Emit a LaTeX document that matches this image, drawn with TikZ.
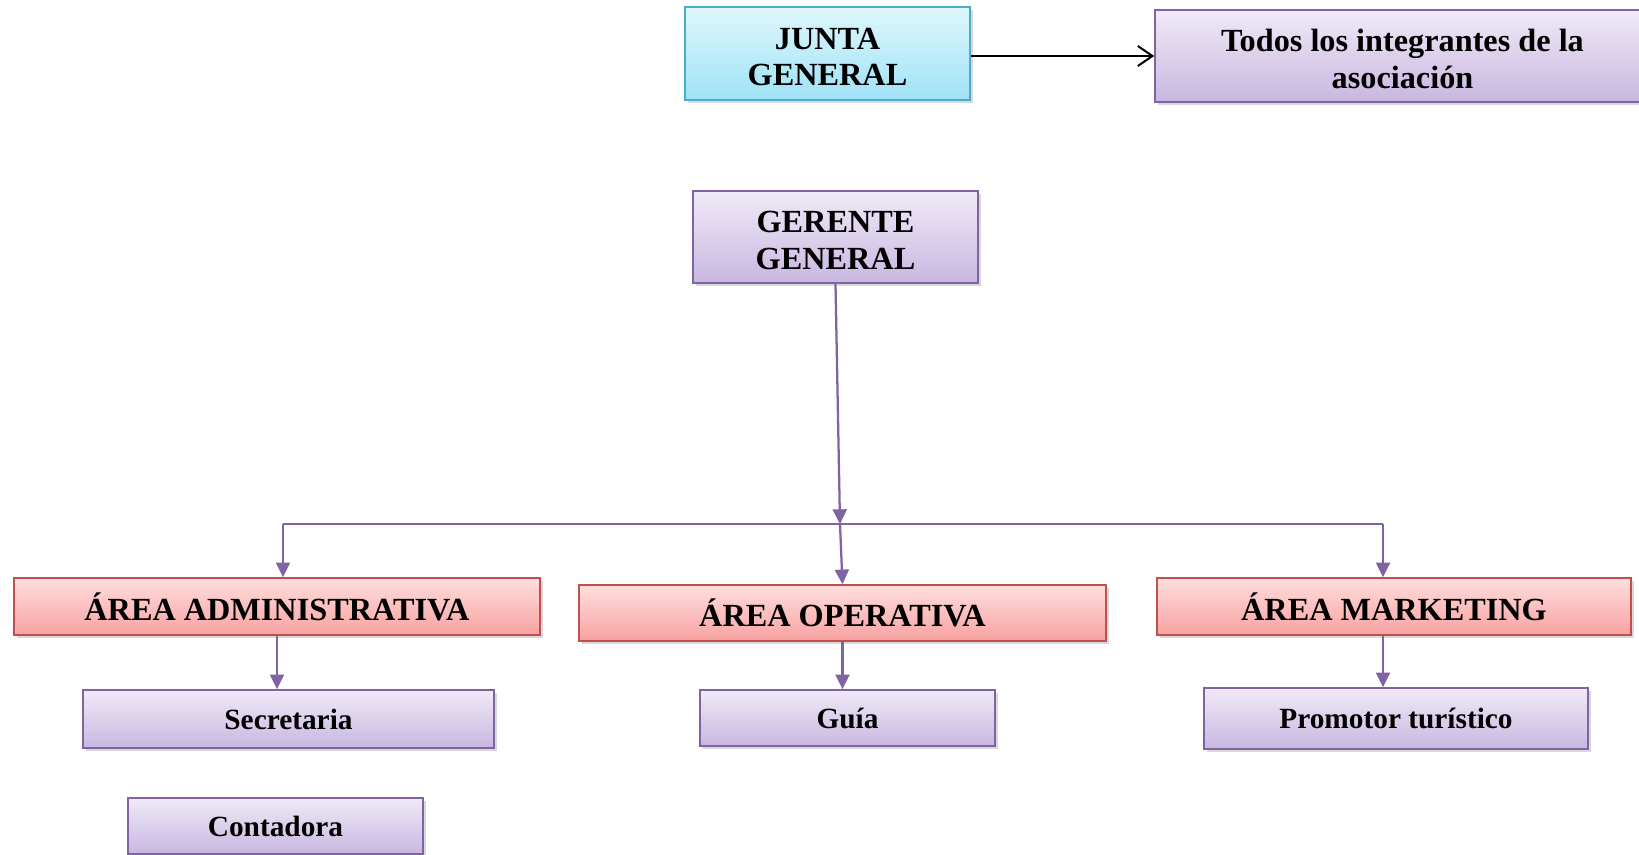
\documentclass[tikz,border=0pt]{standalone}
\usepackage{fontspec}
\setmainfont{Liberation Serif}
\usetikzlibrary{arrows.meta,shadows}

\definecolor{juntaTop}{HTML}{DFF7FD}
\definecolor{juntaBot}{HTML}{9FE2F6}
\definecolor{juntaLine}{HTML}{4BACC6}
\definecolor{moradoTop}{HTML}{F0EAF7}
\definecolor{moradoBot}{HTML}{C8B7E1}
\definecolor{moradoLine}{HTML}{8064A2}
\definecolor{rojoTop}{HTML}{FFDEDE}
\definecolor{rojoBot}{HTML}{F7A2A1}
\definecolor{rojoLine}{HTML}{C0504D}

\tikzset{
  caja/.style={draw, line width=1.1pt, align=center, inner sep=2pt,
    font=\bfseries\fontsize{24.2}{27.5}\selectfont,
    drop shadow={shadow xshift=2pt, shadow yshift=-2.5pt, opacity=0.3}},
  cajaJunta/.style={caja, draw=juntaLine, top color=juntaTop, bottom color=juntaBot},
  cajaMorada/.style={caja, draw=moradoLine, top color=moradoTop, bottom color=moradoBot},
  cajaArea/.style={caja, draw=rojoLine, top color=rojoTop, bottom color=rojoBot},
  cajaCargo/.style={cajaMorada, font=\bfseries\fontsize{22}{26}\selectfont},
  enlace/.style={draw=moradoLine, line width=1.7pt},
  flecha/.style={enlace, -{Triangle[length=11pt,width=10.5pt]}}
}

\begin{document}
\begin{tikzpicture}[x=0.75pt,y=0.75pt,yscale=-1,xscale=1]
\useasboundingbox (0,0) rectangle (1639,855);

%Shape: Rectangle [junta]
\node [cajaJunta, minimum width=213.75pt, minimum height=69.75pt] (junta) at (827.5,53.5) {\rule{0pt}{21pt}JUNTA\\GENERAL};
%Shape: Rectangle [todos]
\node [cajaMorada, minimum width=371.25pt, minimum height=69pt] (todos) at (1402.5,56) {\rule{0pt}{21pt}Todos los integrantes de la\\asociación};
%Shape: Rectangle [gerente]
\node [cajaMorada, minimum width=213.75pt, minimum height=69pt] (gerente) at (835.5,237) {\rule{0pt}{21pt}GERENTE\\GENERAL};

%Shape: Rectangle [areas]
\node [cajaArea, minimum width=394.5pt, minimum height=42.75pt] (admin) at (277,606.5) {ÁREA ADMINISTRATIVA};
\node [cajaArea, minimum width=395.25pt, minimum height=42pt] (operativa) at (842.5,613) {ÁREA OPERATIVA};
\node [cajaArea, minimum width=355.5pt, minimum height=42.75pt] (marketing) at (1394,606.5) {ÁREA MARKETING};

%Shape: Rectangle [cargos]
\node [cajaCargo, minimum width=308.25pt, minimum height=43.5pt] (secretaria) at (288.5,719) {Secretaria};
\node [cajaCargo, minimum width=221.25pt, minimum height=42pt] (contadora) at (275.5,826) {Contadora};
\node [cajaCargo, minimum width=221.25pt, minimum height=42pt] (guia) at (847.5,718) {Guía};
\node [cajaCargo, minimum width=288pt, minimum height=45.75pt] (promotor) at (1396,718.5) {Promotor turístico};

%Straight Lines [bus]
\coordinate (hub) at (840,524);
\coordinate (busL) at (283,524);
\coordinate (busR) at (1383,524);

\draw [line width=1.5pt, -{Straight Barb[length=11pt,width=15pt]}] (junta.east |- todos.west) -- (todos.west);
\draw [flecha] (gerente.south) -- (hub);
\draw [enlace] (busL) -- (busR);
\draw [flecha] (hub) -- (operativa.north);
\draw [flecha] (busL) -- (busL |- admin.north);
\draw [flecha] (busR) -- (busR |- marketing.north);

\draw [flecha] (admin.south) -- (admin.south |- secretaria.north);
\draw [flecha] (operativa.south) -- (operativa.south |- guia.north);
\draw [flecha] (busR |- marketing.south) -- (busR |- promotor.north);

\end{tikzpicture}
\end{document}
